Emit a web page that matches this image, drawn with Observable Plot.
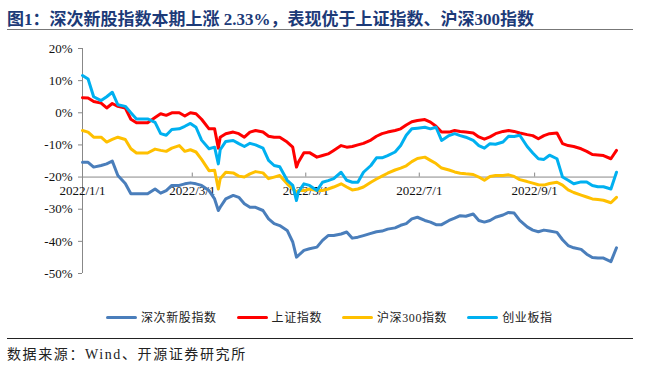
<!DOCTYPE html>
<html><head><meta charset="utf-8">
<script src="https://cdn.jsdelivr.net/npm/d3@7"></script>
<script src="https://cdn.jsdelivr.net/npm/@observablehq/plot@0.6"></script>
<style>
html,body{margin:0;padding:0;background:#fff;}
body{width:656px;height:366px;position:relative;overflow:hidden;font-family:"Liberation Serif","Noto Sans CJK SC",serif;}
#title{position:absolute;left:7px;top:5px;font-size:17px;font-weight:bold;color:#1c3a78;white-space:nowrap;}
#rule1{position:absolute;left:7px;top:29px;width:626px;height:0;border-top:1.5px solid #777;}
#chart{position:absolute;left:0;top:35px;}
#legend{position:absolute;top:308px;left:106px;display:flex;align-items:center;font-size:12px;color:#222;white-space:nowrap;}
.item{display:flex;align-items:center;margin-right:20px;letter-spacing:0.6px;}
.sw{width:31px;height:3px;border-radius:2px;margin-right:4px;}
#rule2{position:absolute;left:7px;top:338px;width:626px;height:0;border-top:1.5px solid #222;}
#source{position:absolute;left:7px;top:343px;font-size:14px;color:#222;letter-spacing:1.6px;white-space:nowrap;}
</style></head>
<body>
<div id="title">图1：深次新股指数本期上涨 2.33%，表现优于上证指数、沪深300指数</div>
<div id="rule1"></div>
<div id="chart"></div>
<div id="legend"></div>
<div id="rule2"></div>
<div id="source">数据来源：Wind、开源证券研究所</div>
<script>
const dates = ["2022-01-01","2022-01-04","2022-01-07","2022-01-11","2022-01-14","2022-01-17","2022-01-20","2022-01-24","2022-01-27","2022-01-30","2022-02-02","2022-02-05","2022-02-09","2022-02-12","2022-02-15","2022-02-18","2022-02-22","2022-02-25","2022-02-28","2022-03-03","2022-03-06","2022-03-10","2022-03-13",
"2022-03-15","2022-03-16","2022-03-19","2022-03-23","2022-03-26","2022-03-29","2022-04-01","2022-04-04","2022-04-08","2022-04-11","2022-04-14","2022-04-17","2022-04-21","2022-04-24","2022-04-26","2022-04-27","2022-04-30","2022-05-03","2022-05-07","2022-05-10","2022-05-13","2022-05-16","2022-05-20","2022-05-23",
"2022-05-26","2022-05-29","2022-06-01","2022-06-05","2022-06-08","2022-06-11","2022-06-14","2022-06-18","2022-06-21","2022-06-24","2022-06-27","2022-06-30","2022-07-04","2022-07-07","2022-07-10","2022-07-13","2022-07-17","2022-07-20","2022-07-23","2022-07-26","2022-07-30","2022-08-02",
"2022-08-05","2022-08-08","2022-08-11","2022-08-15","2022-08-18","2022-08-21","2022-08-24","2022-08-28","2022-08-31","2022-09-03","2022-09-06","2022-09-09","2022-09-13","2022-09-16","2022-09-19","2022-09-22","2022-09-26","2022-09-29","2022-10-02","2022-10-05","2022-10-08","2022-10-12","2022-10-15"];

// 深次新股指数
const sns = [-15.4,-15.4,-16.9,-16.4,-15.9,-15.0,-19.5,-22.0,-25.2,-25.2,-25.2,-25.2,-23.7,-25.0,-24.2,-22.6,-22.6,-22.1,-21.8,-22.1,-22.6,-24.2,-26.8,
-30.4,-29.4,-26.8,-25.7,-26.3,-28.3,-29.4,-29.4,-30.4,-33.0,-34.5,-35.1,-36.6,-40.2,-44.9,-44.4,-42.8,-42.3,-41.8,-39.7,-38.2,-38.2,-37.7,-37.1,
-39.0,-38.7,-38.2,-37.5,-37.0,-36.8,-36.2,-35.8,-35.0,-34.5,-33.0,-32.5,-33.5,-34.0,-34.8,-34.8,-33.5,-32.8,-32.0,-32.2,-31.5,-33.5,
-34.0,-33.5,-32.5,-31.8,-31.0,-31.2,-33.5,-35.5,-36.5,-37.0,-36.5,-36.8,-37.2,-39.5,-41.3,-42.0,-42.5,-44.0,-45.0,-45.2,-45.2,-46.3,-42.0];

// 上证指数
const sz = [4.7,4.6,3.5,3.0,1.5,2.9,2.0,1.5,-2.0,-3.1,-3.1,-3.1,-1.5,-0.3,-0.8,0.0,0.0,-1.0,0.0,-0.3,-2.0,-5.0,-5.0,
-11.0,-7.6,-6.5,-6.0,-6.5,-7.6,-6.0,-5.5,-6.0,-7.3,-7.6,-7.6,-9.1,-10.7,-16.9,-15.4,-12.4,-12.4,-13.8,-13.3,-12.8,-11.7,-10.2,-10.7,
-10.5,-10.0,-9.5,-8.5,-7.3,-6.5,-6.0,-5.5,-5.0,-3.8,-2.8,-2.4,-2.1,-2.9,-4.2,-6.0,-6.0,-5.5,-5.8,-6.0,-6.3,-7.5,
-8.2,-7.5,-6.5,-5.8,-5.5,-5.8,-6.3,-6.8,-7.1,-8.1,-7.1,-6.5,-6.3,-9.6,-10.2,-10.5,-11.2,-12.0,-13.0,-13.1,-13.3,-14.3,-11.7];

// 沪深300指数
const hs300 = [-5.5,-6.0,-7.6,-7.6,-9.1,-8.3,-7.6,-8.3,-11.2,-12.5,-12.5,-12.5,-11.3,-11.7,-12.0,-11.0,-10.2,-12.0,-11.5,-12.2,-14.5,-18.0,-17.9,
-23.7,-20.5,-18.5,-18.7,-19.7,-20.0,-19.0,-18.3,-18.7,-20.5,-20.0,-19.5,-22.1,-23.7,-24.7,-24.2,-24.2,-23.7,-24.2,-24.2,-23.7,-23.1,-22.1,-23.1,
-24.0,-23.7,-23.1,-21.6,-20.6,-19.7,-18.8,-17.8,-17.2,-16.5,-15.2,-14.2,-13.8,-14.8,-15.8,-17.2,-17.8,-18.4,-18.8,-19.0,-19.2,-20.0,
-21.0,-19.8,-19.5,-19.5,-19.3,-19.8,-20.8,-21.4,-21.9,-22.4,-22.5,-22.0,-21.6,-22.5,-24.0,-24.8,-25.6,-26.2,-26.8,-27.0,-27.2,-28.0,-26.3];

// 创业板指
const cyb = [11.6,10.5,5.0,3.8,5.0,6.4,2.5,2.0,0.0,-1.9,-1.9,-1.9,-3.0,-6.5,-7.0,-5.2,-5.0,-4.2,-3.3,-4.5,-8.5,-11.2,-10.7,
-15.9,-11.5,-8.9,-8.6,-9.6,-10.5,-9.5,-10.0,-11.0,-14.8,-16.4,-16.8,-21.0,-22.6,-27.3,-24.7,-22.1,-22.6,-24.2,-21.6,-21.1,-20.5,-18.5,-21.0,
-21.6,-21.6,-18.5,-16.4,-14.0,-14.0,-13.3,-12.2,-10.2,-7.0,-5.0,-4.8,-4.5,-5.0,-4.5,-8.6,-7.1,-6.5,-7.1,-7.6,-8.6,-10.2,
-11.0,-9.6,-9.8,-9.1,-7.3,-7.4,-7.0,-10.5,-12.5,-14.3,-14.5,-13.2,-14.3,-20.0,-21.0,-22.1,-21.5,-21.5,-22.6,-23.0,-23.0,-23.7,-18.5];

const seriesNames = ["深次新股指数","上证指数","沪深300指数","创业板指"];
const seriesColors = ["#4a7ebb","#ff0000","#ffc000","#00b0f0"];
const seriesValues = [sns, sz, hs300, cyb];
const xTickLabels = ["2022-01-01","2022-03-01","2022-05-01","2022-07-01","2022-09-01"];
const yTicks = [20,10,0,-10,-20,-30,-40,-50];
const xDomain = ["2022-01-01","2022-10-15"];
const axisCross = -20;

const parse = d3.utcParse("%Y-%m-%d");
const fmt = d3.utcFormat("%Y/%-m/%-d");
const xTicks = xTickLabels.map(parse);

const lineMarks = seriesValues.map((vals, k) =>
  Plot.line(vals.map((v, i) => ({date: parse(dates[i]), value: v})), {
    x: "date", y: "value", stroke: seriesColors[k], strokeWidth: 3, curve: "linear"
  })
);

const chart = Plot.plot({
  width: 656, height: 265,
  marginLeft: 82, marginRight: 40, marginTop: 13, marginBottom: 27,
  x: {type: "utc", domain: xDomain.map(parse), axis: null},
  y: {domain: [d3.min(yTicks), d3.max(yTicks)], axis: null},
  style: {fontFamily: "'Liberation Serif', serif", fontSize: "13px", color: "#111", background: "transparent"},
  marks: [
    Plot.axisY(yTicks, {tickFormat: d => d + "%", tickSize: 4, tickPadding: 6, stroke: "#888", label: null, fontSize: 13}),
    Plot.ruleX([parse(xDomain[0])], {y1: d3.min(yTicks), y2: d3.max(yTicks), stroke: "#888", strokeWidth: 1}),
    Plot.ruleY([axisCross], {stroke: "#888", strokeWidth: 1}),
    Plot.ruleX(xTicks, {y1: axisCross, y2: axisCross, insetTop: -4, stroke: "#888"}),
    Plot.text(xTicks, {x: d => d, y: axisCross, text: d => fmt(d), dy: 14, fontSize: 13, fill: "#111"}),
    ...lineMarks
  ]
});
document.getElementById("chart").appendChild(chart);

const legend = document.getElementById("legend");
seriesNames.forEach((n, k) => {
  const it = document.createElement("div");
  it.className = "item";
  it.innerHTML = `<div class="sw" style="background:${seriesColors[k]}"></div><span>${n}</span>`;
  legend.appendChild(it);
});
</script>
</body></html>
